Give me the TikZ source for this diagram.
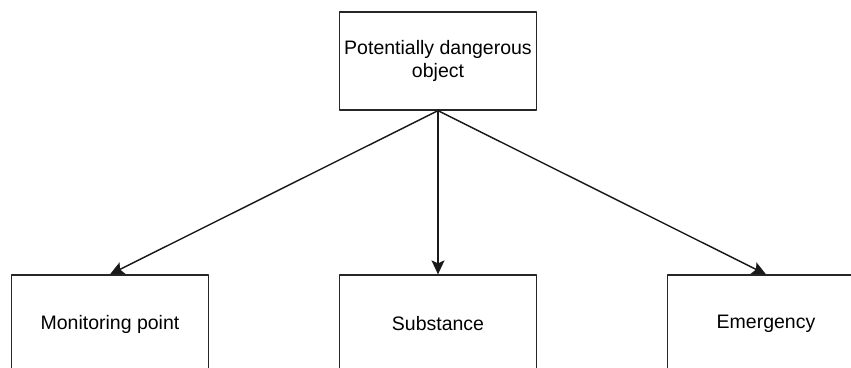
\documentclass[tikz,border=0pt]{standalone}
\usepackage{fontspec}
\setmainfont{Liberation Sans}
\usetikzlibrary{arrows.meta, positioning}
\tikzset{
    tree/.style={>={Stealth[length=14pt, width=13pt, inset=3pt]}, line cap=round,
                 line join=round, x=1pt, y=-1pt},
    entity/.style={draw=black!85, line width=1.3pt, fill=white,
                   minimum width=197pt, minimum height=98pt, inner sep=2pt,
                   align=center, font=\fontsize{19.5}{23}\selectfont},
    arrow/.style={->, line width=1.4pt, draw=black!90},
}

\begin{document}
\begin{tikzpicture}[tree]

% ─── Cadre ──────────────────────────────────────────────────────────────
\clip (0,0) rectangle (851,367);

% ─── Blocs ──────────────────────────────────────────────────────────────
\node[entity] (object)  at (438,61)  {Potentially dangerous\\object};
\node[entity] (monitor) at (110,324) {Monitoring point};
\node[entity] (subst)   at (438,324) {Substance};
\node[entity] (emerg)   at (766,324) {Emergency};

% ─── Liens ──────────────────────────────────────────────────────────────
\foreach \n in {monitor,subst,emerg}{
    \draw[arrow] (object.south) -- (\n.north);
}

\end{tikzpicture}
\end{document}
